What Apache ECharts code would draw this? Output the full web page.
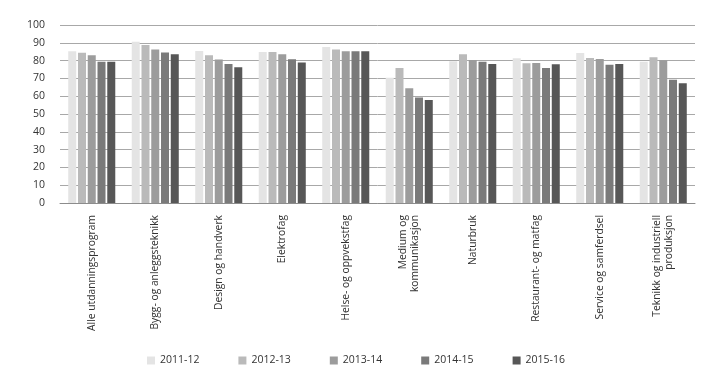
<!DOCTYPE html>
<html><head><meta charset="utf-8">
<script src="https://cdn.jsdelivr.net/npm/echarts@6/dist/echarts.min.js"></script>
<style>html,body{margin:0;padding:0;background:#fff}#c{width:719px;height:383px}</style>
</head><body><div id="c"></div>
<script>
const categories = ["Alle utdanningsprogram","Bygg- og anleggsteknikk","Design og handverk","Elektrofag","Helse- og oppvekstfag","Medium og\nkommunikasjon","Naturbruk","Restaurant- og matfag","Service og samferdsel","Teknikk og industriell\nproduksjon"];
const seriesNames = ["2011-12","2012-13","2013-14","2014-15","2015-16"];
const s2011 = [85.2, 90.6, 85.4, 84.8, 87.6, 70.3, 79.6, 81.3, 84.3, 79.3];
const s2012 = [84.4, 88.7, 83.0, 84.8, 86.3, 75.9, 83.5, 78.5, 81.4, 81.9];
const s2013 = [83.0, 86.3, 80.6, 83.6, 85.2, 64.5, 80.4, 78.7, 80.9, 80.2];
const s2014 = [79.4, 84.5, 78.1, 80.8, 85.3, 59.3, 79.4, 75.9, 77.6, 69.2];
const s2015 = [79.4, 83.6, 76.3, 78.9, 85.3, 57.9, 78.1, 77.9, 78.1, 67.3];
const yTicks = {min:0, max:100, interval:10};
const colors = ["#e4e4e4","#bababa","#9c9c9c","#7a7a7a","#575757"];
const values = [s2011,s2012,s2013,s2014,s2015];
const font = "'Open Sans', sans-serif";
const chart = echarts.init(document.getElementById('c'), null, {renderer:'canvas'});
chart.setOption({
  animation:false,
  color: colors,
  grid:{left:60,right:24,top:25,bottom:180,containLabel:false},
  legend:{
    left:142, top:350, itemWidth:8, itemHeight:8, itemGap:39, icon:'rect',
    textStyle:{fontFamily:font,fontSize:10.5,color:'#333'},
    data: seriesNames
  },
  xAxis:{
    type:'category', data:categories,
    axisLine:{lineStyle:{color:'#8c8c8c',width:1}},
    axisTick:{show:false},
    axisLabel:{rotate:90,interval:0,margin:12,fontFamily:font,fontSize:10.3,color:'#333',lineHeight:12,align:'right'}
  },
  yAxis:{
    type:'value', min:yTicks.min, max:yTicks.max, interval:yTicks.interval,
    axisLine:{show:false}, axisTick:{show:false},
    axisLabel:{margin:15,fontFamily:font,fontSize:10.5,color:'#333'},
    splitLine:{lineStyle:{color:'#a8a8a8',width:1}}
  },
  series: seriesNames.map((n,i)=>({
    name:n, type:'bar', data:values[i], barWidth:8, barGap:'22%',
    itemStyle:{color:colors[i]}
  }))
});
</script></body></html>
